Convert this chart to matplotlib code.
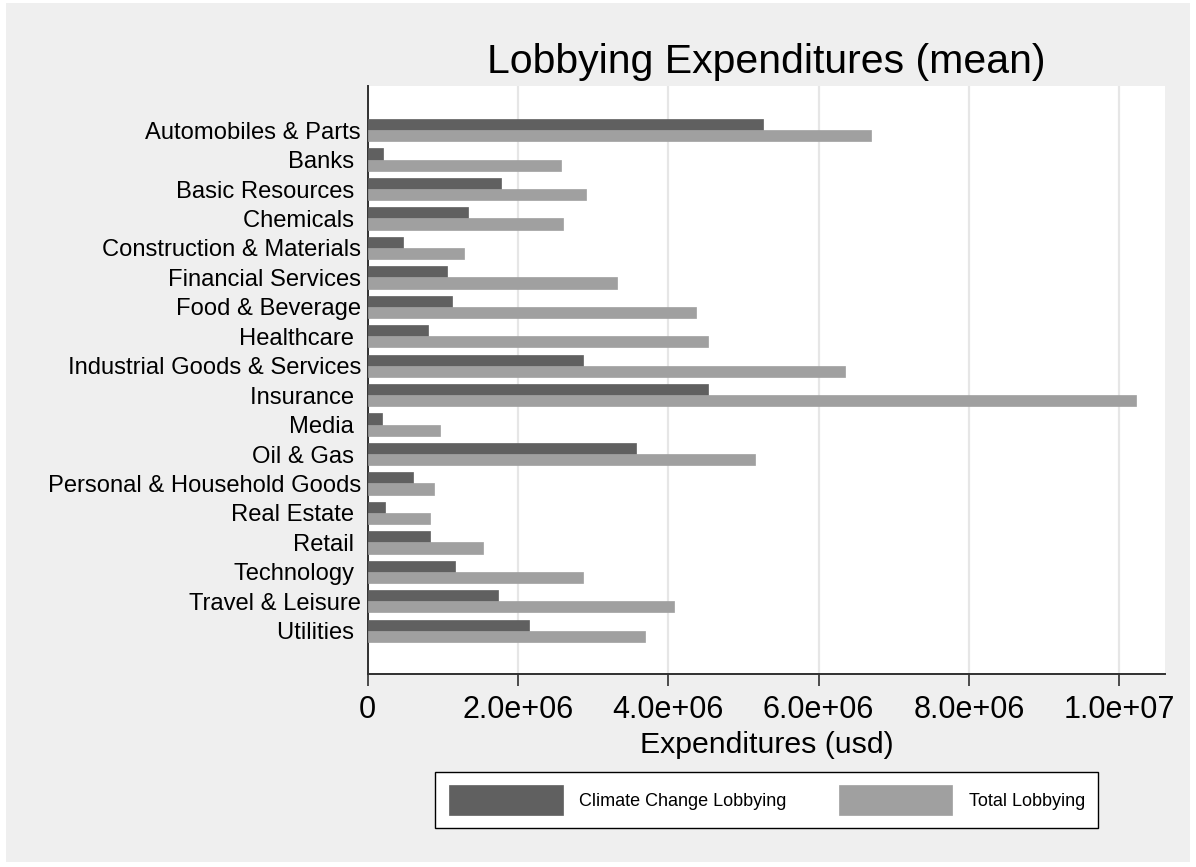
import matplotlib
matplotlib.use("Agg")
import matplotlib.pyplot as plt
import numpy as np
from matplotlib.patches import Rectangle

categories = ["Automobiles & Parts", "Banks ", "Basic Resources ", "Chemicals ",
              "Construction & Materials", "Financial Services", "Food & Beverage",
              "Healthcare ", "Industrial Goods & Services", "Insurance ", "Media ",
              "Oil & Gas ", "Personal & Household Goods", "Real Estate ", "Retail ",
              "Technology ", "Travel & Leisure", "Utilities "]
climate = [5.26e6, 0.20e6, 1.77e6, 1.33e6, 0.47e6, 1.06e6, 1.12e6, 0.81e6, 2.87e6,
           4.53e6, 0.19e6, 3.57e6, 0.60e6, 0.23e6, 0.83e6, 1.17e6, 1.73e6, 2.15e6]
total = [6.70e6, 2.57e6, 2.91e6, 2.60e6, 1.28e6, 3.32e6, 4.37e6, 4.53e6, 6.35e6,
         10.22e6, 0.96e6, 5.16e6, 0.89e6, 0.83e6, 1.54e6, 2.87e6, 4.08e6, 3.69e6]
xticks = [0, 2e6, 4e6, 6e6, 8e6, 1e7]
xticklabels = ["0", "2.0e+06", "4.0e+06", "6.0e+06", "8.0e+06", "1.0e+07"]
series_names = ["Climate Change Lobbying", "Total Lobbying"]

plt.rcParams['font.family'] = ['Liberation Sans', 'DejaVu Sans']

W, H = 1196, 867
fig = plt.figure(figsize=(W / 100, H / 100), dpi=100)
fig.patch.set_facecolor("white")
fig.patches.append(Rectangle((6 / W, 5 / H), (W - 12) / W, (H - 8) / H,
                             transform=fig.transFigure, facecolor="#efefef",
                             edgecolor="none", zorder=-10))

left, right, top, bottom = 367.5, 1165.3, 86, 674
ax = fig.add_axes([left / W, 1 - bottom / H, (right - left) / W, (bottom - top) / H])
ax.set_facecolor("white")

n = len(categories)
y = np.arange(n)
bh = 0.379
c_dark, c_light = "#606060", "#a0a0a0"
ax.barh(y - bh / 2, climate, height=bh, color=c_dark, edgecolor=c_dark, linewidth=0.5,
        label=series_names[0], zorder=3)
ax.barh(y + bh / 2, total, height=bh, color=c_light, edgecolor=c_light, linewidth=0.5,
        label=series_names[1], zorder=3)

ax.set_ylim(n - 1 + 1.47, -1.5)
ax.set_xlim(0, 10.61e6)
ax.set_yticks(y)
ax.set_yticklabels(categories, fontsize=17.1)
ax.tick_params(axis="y", length=0, pad=4.7)
ax.set_xticks(xticks)
ax.set_xticklabels(xticklabels, fontsize=22)
ax.tick_params(axis="x", length=8.6, width=1.2, color="#303030", pad=6.5)

ax.grid(axis="x", color="#e6e6e6", linewidth=1.6, zorder=0)
ax.set_axisbelow(True)
for s in ["top", "right"]:
    ax.spines[s].set_visible(False)
for s in ["left", "bottom"]:
    ax.spines[s].set_color("#303030")
    ax.spines[s].set_linewidth(1.4)

ax.set_xlabel("Expenditures (usd)", fontsize=21.8, labelpad=4.5)
ax.set_title("Lobbying Expenditures (mean)", fontsize=29.5, pad=9.6)

leg = fig.legend(loc="center", bbox_to_anchor=(766.9 / W, 1 - 800 / H), ncol=2,
                 fontsize=13, handlelength=6.3, handleheight=2.1, handletextpad=0.9,
                 columnspacing=2.9, borderpad=0.75, fancybox=False, framealpha=1,
                 edgecolor="black")
leg.get_frame().set_linewidth(1.0)

fig.savefig("out.png", dpi=100, facecolor=fig.get_facecolor())
